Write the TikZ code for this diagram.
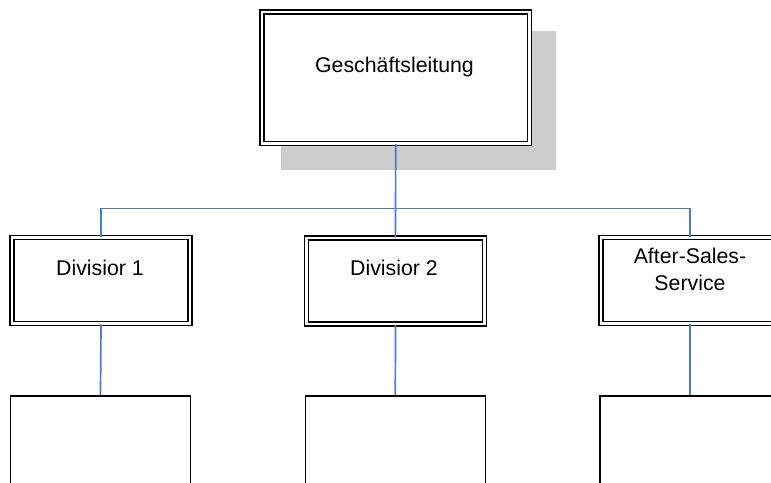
\documentclass[tikz,border=0pt]{standalone}
\usepackage{fontspec}
\setmainfont{Liberation Sans}
\definecolor{connblue}{HTML}{4A7EC4}
\definecolor{shadowgray}{HTML}{CCCCCC}
\begin{document}
\begin{tikzpicture}[x=1pt,y=-1pt,
  dbox/.style={draw=black, double=white, double distance=2.8pt, line width=1.5pt, fill=white, inner sep=0pt},
  sbox/.style={draw=black, line width=1.6pt, fill=white, inner sep=0pt, minimum width=180pt, minimum height=170pt, anchor=north},
  txt/.style={font=\fontsize{21.3}{27.2}\selectfont, inner sep=0pt, anchor=base, align=center},
  conn/.style={draw=connblue, line width=1.7pt}]
\useasboundingbox (0,0) rectangle (771,482);
\clip (0,0) rectangle (771,482);
% top box
\node[dbox, minimum width=267.5pt, minimum height=131.5pt] (gl) at (395.7,77.7) {};
\fill[shadowgray] ([shift={(19.7,19.7)}]gl.north west) rectangle ([shift={(25.5,25.5)}]gl.south east);
\node[dbox, minimum width=267.5pt, minimum height=131.5pt] (gl) at (395.7,77.7) {};
\node[txt] (t0) at (394.5,72.5) {Geschäftsleitung};
% divisions
\node[dbox, minimum width=178pt, minimum height=86pt] (d1) at (101,280.5) {};
\node[dbox, minimum width=178pt, minimum height=86pt] (d2) at (395.5,281) {};
\node[dbox, minimum width=178pt, minimum height=86pt] (d3) at (690,280.5) {};
\node[txt] (t1) at (100,275) {Divisior 1};
\node[txt] (t2) at (394,275) {Divisior 2};
\node[txt] (t3) at (690,290.5) {After-Sales-\\Service};
% bottom boxes
\node[sbox] (b1) at (100.5,395) {};
\node[sbox] (b2) at (395.3,395) {};
\node[sbox] (b3) at (690,395) {};
% connectors
\coordinate (bus) at (395.5,208.5);
\draw[conn] (gl.south) -- (d2.north);
\draw[conn] (d1.north) |- (bus) -| (d3.north);
\draw[conn] (d1.south) -- (b1.north);
\draw[conn] (d2.south) -- (b2.north);
\draw[conn] (d3.south) -- (b3.north);
\end{tikzpicture}
\end{document}
